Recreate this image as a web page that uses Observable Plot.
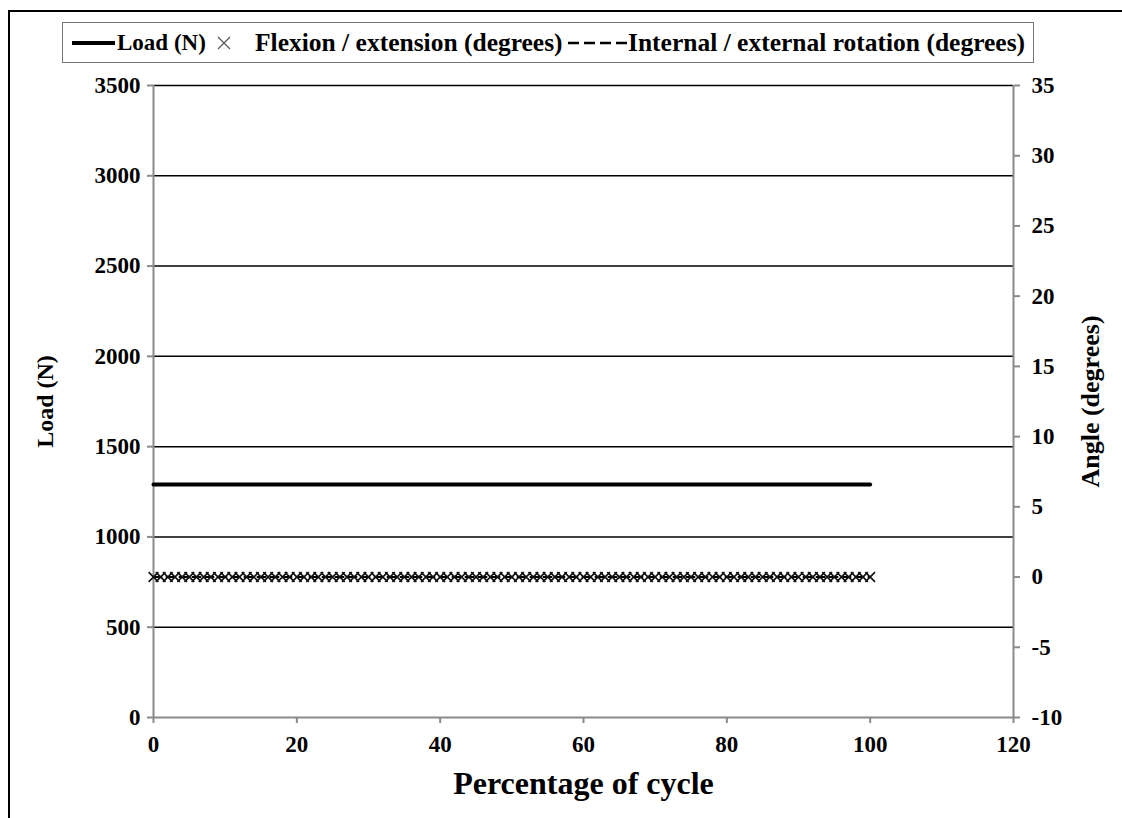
<!DOCTYPE html>
<html>
<head>
<meta charset="utf-8">
<script src="https://cdn.jsdelivr.net/npm/d3@7"></script>
<script src="https://cdn.jsdelivr.net/npm/@observablehq/plot@0.6"></script>
<style>
  html, body { margin: 0; padding: 0; background: #fff; }
  #wrap { position: relative; width: 1122px; height: 818px; overflow: hidden; background: #fff; }
  #frame { position: absolute; left: 8px; top: 10px; width: 1200px; height: 900px; border: 2px solid #000; box-sizing: border-box; }
  #chart svg { position: absolute; left: 0; top: 0; }
  #legend {
    position: absolute; left: 62px; top: 22px; width: 972px; height: 41px;
    box-sizing: border-box; border: 1px solid #777; background: #fff;
    font-family: "Liberation Serif", "Times New Roman", serif; font-weight: bold; font-size: 25.5px;
    color: #000;
  }
  #legend > * { position: absolute; top: 50%; transform: translateY(-50%); white-space: nowrap; }
  #legend svg { display: block; }
</style>
</head>
<body>
<div id="wrap">
  <div id="frame"></div>
  <div id="chart"></div>
  <div id="legend"></div>
</div>
<script>
// Percentage of the gait cycle (0–100 %)
const cycle = [0,1,2,3,4,5,6,7,8,9,10,11,12,13,14,15,16,17,18,19,20,21,22,23,24,25,26,27,28,29,30,31,32,33,34,35,36,37,38,39,40,41,42,43,44,45,46,47,48,49,50,51,52,53,54,55,56,57,58,59,60,61,62,63,64,65,66,67,68,69,70,71,72,73,74,75,76,77,78,79,80,81,82,83,84,85,86,87,88,89,90,91,92,93,94,95,96,97,98,99,100];
// Axial load (N) – held constant over the cycle
const loadN = [1290,1290,1290,1290,1290,1290,1290,1290,1290,1290,1290,1290,1290,1290,1290,1290,1290,1290,1290,1290,1290,1290,1290,1290,1290,1290,1290,1290,1290,1290,1290,1290,1290,1290,1290,1290,1290,1290,1290,1290,1290,1290,1290,1290,1290,1290,1290,1290,1290,1290,1290,1290,1290,1290,1290,1290,1290,1290,1290,1290,1290,1290,1290,1290,1290,1290,1290,1290,1290,1290,1290,1290,1290,1290,1290,1290,1290,1290,1290,1290,1290,1290,1290,1290,1290,1290,1290,1290,1290,1290,1290,1290,1290,1290,1290,1290,1290,1290,1290,1290,1290];
// Flexion / extension angle (degrees)
const flexionDeg = [0,0,0,0,0,0,0,0,0,0,0,0,0,0,0,0,0,0,0,0,0,0,0,0,0,0,0,0,0,0,0,0,0,0,0,0,0,0,0,0,0,0,0,0,0,0,0,0,0,0,0,0,0,0,0,0,0,0,0,0,0,0,0,0,0,0,0,0,0,0,0,0,0,0,0,0,0,0,0,0,0,0,0,0,0,0,0,0,0,0,0,0,0,0,0,0,0,0,0,0,0];
// Internal / external rotation angle (degrees)
const rotationDeg = [0,0,0,0,0,0,0,0,0,0,0,0,0,0,0,0,0,0,0,0,0,0,0,0,0,0,0,0,0,0,0,0,0,0,0,0,0,0,0,0,0,0,0,0,0,0,0,0,0,0,0,0,0,0,0,0,0,0,0,0,0,0,0,0,0,0,0,0,0,0,0,0,0,0,0,0,0,0,0,0,0,0,0,0,0,0,0,0,0,0,0,0,0,0,0,0,0,0,0,0,0];

// Axis ticks
const xTicks = [0, 20, 40, 60, 80, 100, 120];
const loadTicks = [0, 500, 1000, 1500, 2000, 2500, 3000, 3500];
const angleTicks = [-10, -5, 0, 5, 10, 15, 20, 25, 30, 35];

// Secondary (angle) axis shares the frame with the load axis
const loadDomain = [0, 3500];
const angleDomain = [-10, 35];
const angleToLoad = a => (a - angleDomain[0]) / (angleDomain[1] - angleDomain[0]) * (loadDomain[1] - loadDomain[0]) + loadDomain[0];
const loadToAngle = l => (l - loadDomain[0]) / (loadDomain[1] - loadDomain[0]) * (angleDomain[1] - angleDomain[0]) + angleDomain[0];

const rows = cycle.map((c, i) => ({
  cycle: c,
  load: loadN[i],
  flexion: flexionDeg[i],
  rotation: rotationDeg[i]
}));

const font = "'Liberation Serif', 'Times New Roman', serif";
const axisGrey = "#8a8a8a";

const chart = Plot.plot({
  width: 1122,
  height: 818,
  marginLeft: 153,
  marginRight: 109,
  marginTop: 85,
  marginBottom: 101,
  style: { fontFamily: font, fontSize: "23px", fontWeight: "bold", background: "transparent", color: "#000" },
  x: { domain: [0, 120], nice: false },
  y: { domain: loadDomain, nice: false },
  marks: [
    // horizontal gridlines
    Plot.ruleY(loadTicks.filter(d => d > 0), { stroke: "#000", strokeWidth: 1.5 }),
    // axis lines
    Plot.ruleY([0], { stroke: axisGrey, strokeWidth: 2 }),
    Plot.ruleX([0], { stroke: axisGrey, strokeWidth: 2 }),
    Plot.ruleX([120], { stroke: axisGrey, strokeWidth: 2 }),
    Plot.axisX({ ticks: xTicks, tickSize: 6, tickPadding: 12, stroke: axisGrey, strokeWidth: 2, tickFormat: d => String(d), label: null }),
    Plot.axisY({ anchor: "left", ticks: loadTicks, tickSize: 6, tickPadding: 7, stroke: axisGrey, strokeWidth: 2, tickFormat: d => String(d), label: null }),
    Plot.axisY({ anchor: "right", ticks: angleTicks.map(angleToLoad), tickSize: 6, tickPadding: 12, stroke: axisGrey, strokeWidth: 2,
      tickFormat: d => String(Math.round(loadToAngle(d))), label: null }),
    // axis titles
    Plot.text(["Load (N)"], { frameAnchor: "left", dx: -108, rotate: -90, textAnchor: "middle", lineAnchor: "middle",
      fontSize: 24, fontWeight: "bold", fontFamily: font, fill: "#000" }),
    Plot.text(["Angle (degrees)"], { frameAnchor: "right", dx: 77, rotate: -90, textAnchor: "middle", lineAnchor: "middle",
      fontSize: 26, fontWeight: "bold", fontFamily: font, fill: "#000" }),
    Plot.text(["Percentage of cycle"], { frameAnchor: "bottom", dy: 66, textAnchor: "middle", lineAnchor: "middle",
      fontSize: 32, fontWeight: "bold", fontFamily: font, fill: "#000" }),
    // series
    Plot.line(rows, { x: "cycle", y: d => angleToLoad(d.rotation), stroke: "#000", strokeWidth: 2, strokeDasharray: "8,5" }),
    Plot.line(rows, { x: "cycle", y: "load", stroke: "#000", strokeWidth: 4 }),
    Plot.dot(rows, { x: "cycle", y: d => angleToLoad(d.flexion), symbol: "times", r: 4.5, stroke: "#111", strokeWidth: 1.6 })
  ]
});
document.getElementById("chart").appendChild(chart);

// Legend row: swatches and labels placed along the boxed strip
const ns = "http://www.w3.org/2000/svg";
function swatch(kind) {
  const s = document.createElementNS(ns, "svg");
  if (kind === "line") {
    s.setAttribute("width", 43); s.setAttribute("height", 10);
    s.innerHTML = '<line x1="0" y1="5" x2="43" y2="5" stroke="#000" stroke-width="4"/>';
  } else if (kind === "times") {
    s.setAttribute("width", 16); s.setAttribute("height", 16);
    s.innerHTML = '<path d="M2,2L14,14M14,2L2,14" stroke="#555" stroke-width="1.2"/>';
  } else {
    s.setAttribute("width", 60); s.setAttribute("height", 10);
    s.innerHTML = '<line x1="0" y1="5" x2="60" y2="5" stroke="#000" stroke-width="2.5" stroke-dasharray="11,5"/>';
  }
  return s;
}
const legendEntries = [
  { kind: "line", label: "Load (N)", swatchX: 9, textX: 54, size: 23 },
  { kind: "times", label: "Flexion / extension (degrees)", swatchX: 153, textX: 192, size: 25.5 },
  { kind: "dash", label: "Internal / external rotation (degrees)", swatchX: 505, textX: 565, size: 25.5 }
];
const legend = document.getElementById("legend");
legendEntries.forEach(e => {
  const sw = swatch(e.kind);
  sw.style.left = e.swatchX + "px";
  legend.appendChild(sw);
  const t = document.createElement("span");
  t.textContent = e.label;
  t.style.left = e.textX + "px";
  t.style.fontSize = e.size + "px";
  legend.appendChild(t);
});
</script>
</body>
</html>
